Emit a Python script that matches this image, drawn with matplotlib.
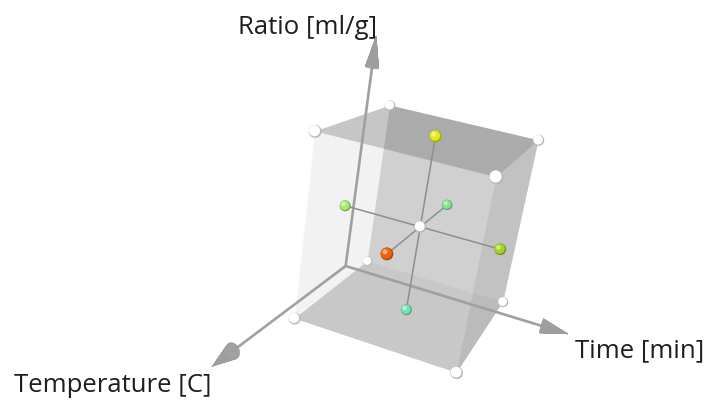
#!/usr/bin/env python3
"""
Design space plot
Draws the face-centred central composite design as a shaded 3D cube
"""

import numpy as np
import matplotlib
matplotlib.use('Agg')
import matplotlib.pyplot as plt
from matplotlib.colors import to_rgb
from matplotlib.markers import MarkerStyle
from matplotlib.path import Path
from mpl_toolkits.mplot3d import proj3d
from mpl_toolkits.mplot3d.art3d import Poly3DCollection

# Factors: x = temperature, y = time, z = ratio (coded levels -1 / 0 / +1)
FACTOR_LABELS = ['Temperature [C]', 'Time [min]', 'Ratio [ml/g]']

# Runs: 8 cube corners, centre point, 6 axial (face) points
temperature = [-1, -1, 1, 1, -1, -1, 1, 1, 0, 0, 0, 0, 0, 1, -1]
time_min = [-1, 1, 1, -1, -1, 1, 1, -1, 0, 0, 0, -1, 1, 0, 0]
ratio = [-1, -1, -1, -1, 1, 1, 1, 1, 0, 1, -1, 0, 0, 0, 0]
run_colors = ['#ffffff'] * 9 + ['#e2ec14', '#78e2b2', '#aae872',
                                '#a6d426', '#f0620e', '#84e292']

# Where the factor arrows start and how far each one reaches
ARROW_ORIGIN = (-0.66, -1.175, -1.0)
ARROW_END = (2.30, 1.94, 1.78)

# Face darkness (black overlay alpha) for a soft lit look
FACE_ALPHA = {(0, -1): 0.15, (0, 1): 0.04,
              (1, -1): 0.01, (1, 1): 0.10,
              (2, -1): 0.18, (2, 1): 0.21}


def face_quad(axis, level, lo, hi):
    """Corners of the cube face where coordinate `axis` equals `level`"""
    others = [i for i in range(3) if i != axis]
    quad = []
    for a, b in [(lo, lo), (hi, lo), (hi, hi), (lo, hi)]:
        p = [0.0, 0.0, 0.0]
        p[axis] = level
        p[others[0]] = a
        p[others[1]] = b
        quad.append(p)
    return quad


def draw_cone(ax, tip, direction, length, radius, zorder):
    """Arrow head as a small cone ending at `tip`"""
    d = np.asarray(direction, float)
    u = np.roll(d, 1)
    v = np.cross(d, u)
    th = np.linspace(0, 2 * np.pi, 32)
    t = np.array([0.0, 1.0])
    T, TH = np.meshgrid(t, th)
    base = np.asarray(tip, float) - d * length
    ring = u[:, None, None] * np.cos(TH) + v[:, None, None] * np.sin(TH)
    pts = base[:, None, None] + d[:, None, None] * length * T + radius * (1 - T) * ring
    surf = ax.plot_surface(pts[0], pts[1], pts[2], color='#9e9e9e', shade=False,
                           linewidth=0.3, edgecolor='#9e9e9e',
                           antialiased=True, zorder=zorder)
    surf.set_clip_on(False)


def ball_marker(cx, cy, r):
    """Circle marker inside a fixed [-1, 1] frame so layers stay aligned"""
    frame = Path([(-1, -1), (1, 1)], [Path.MOVETO, Path.MOVETO])
    return MarkerStyle(Path.make_compound_path(frame, Path.circle((cx, cy), r)))


def main():
    fig = plt.figure(figsize=(7.09, 4.03), dpi=100)
    ax = fig.add_axes([0.3783, 0.0598, 0.4177, 0.7349], projection='3d',
                      computed_zorder=False)
    ax.set_xlim(-1, 1)
    ax.set_ylim(-1, 1)
    ax.set_zlim(-1, 1)
    ax.set_box_aspect((1, 0.967, 1.083))
    ax.view_init(elev=20.4, azim=17.06, roll=-9.56)
    ax.set_proj_type('persp', focal_length=0.459)
    ax.set_axis_off()
    M = ax.get_proj()

    runs = np.c_[temperature, time_min, ratio].astype(float)
    lo, hi = runs.min(), runs.max()

    # Translucent cube faces
    quads, colors = [], []
    for (axis, level), alpha in FACE_ALPHA.items():
        quads.append(face_quad(axis, lo if level < 0 else hi, lo, hi))
        colors.append((0, 0, 0, alpha))
    ax.add_collection3d(Poly3DCollection(quads, facecolors=colors,
                                         edgecolors='none', zorder=1))

    # Factor arrows with their labels
    origin = np.array(ARROW_ORIGIN)
    head_len, head_rad = 0.34, 0.085
    label_offsets = [(-1, -7, 'right', 'top'), (7, -4, 'left', 'top'),
                     (1, 2, 'right', 'baseline')]
    for i, end in enumerate(ARROW_END):
        d = np.zeros(3)
        d[i] = 1.0
        tip = origin.copy()
        tip[i] = end
        shaft_end = tip - d * head_len * 0.9
        ax.plot(*np.c_[origin, shaft_end], color='#a0a0a0', lw=1.9,
                solid_capstyle='butt', zorder=2, clip_on=False)
        draw_cone(ax, tip, d, head_len, head_rad, zorder=3)

        # label placed in the projected 2D frame of the 3D axes
        tx, ty, _ = proj3d.proj_transform(tip[0], tip[1], tip[2], M)
        dx, dy, ha, va = label_offsets[i]
        ax.annotate(FACTOR_LABELS[i], xy=(tx, ty), xycoords='data',
                    xytext=(dx, dy), textcoords='offset pixels',
                    ha=ha, va=va, fontsize=18.5, family='Open Sans',
                    color='#1e1e1e', annotation_clip=False, zorder=10)

    # Lines from the axial points through the centre
    for i in range(3):
        others = [j for j in range(3) if j != i]
        axial = runs[(runs[:, others] == 0).all(axis=1) & (runs[:, i] != 0)]
        axial = axial[np.argsort(axial[:, i])]
        ax.plot(*axial.T, color='#8e8e8e', lw=1.1, zorder=4)

    # Ball sizes follow the perspective depth
    w = (M @ np.vstack([runs.T, np.ones(len(runs))]))[3]
    diam_px = 11.5 * w.mean() / w
    sizes = (diam_px / (100 / 72)) ** 2

    base = np.array([to_rgb(c) for c in run_colors])
    white = np.all(base > 0.99, axis=1)
    shade = np.where(white[:, None], 0.72, base * 0.72)
    light = base + (1 - base) * 0.5

    layers = [(ball_marker(0, 0, 1.0), shade),
              (ball_marker(-0.1, 0.1, 0.86), base),
              (ball_marker(-0.3, 0.32, 0.38), light)]
    for k, (marker, cols) in enumerate(layers):
        ax.scatter(runs[:, 0], runs[:, 1], runs[:, 2], s=sizes, c=cols,
                   marker=marker, linewidths=0, depthshade=False,
                   zorder=5 + k, clip_on=False)

    fig.savefig('out.png', dpi=100)
    plt.close(fig)


if __name__ == '__main__':
    main()
